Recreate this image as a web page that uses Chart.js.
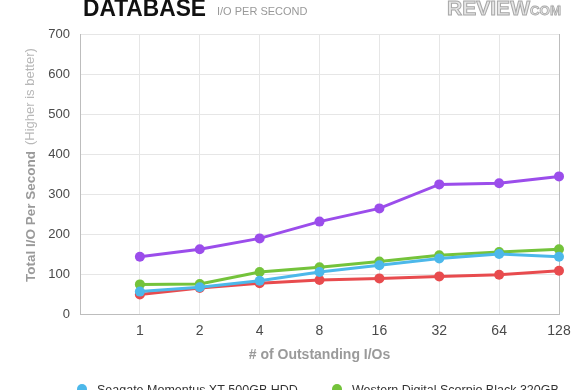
<!DOCTYPE html>
<html>
<head>
<meta charset="utf-8">
<script src="https://cdn.jsdelivr.net/npm/chart.js@4.4.1/dist/chart.umd.min.js"></script>
<style>
  html, body { margin: 0; padding: 0; background: #fff; overflow: hidden; }
  #wrap { width: 580px; height: 390px; position: relative; }
</style>
</head>
<body>
<div id="wrap"><canvas id="c" width="580" height="390"></canvas></div>
<script>
// ---- data ----
const categories = ['', '1', '2', '4', '8', '16', '32', '64', '128'];
const yTicks = [0, 100, 200, 300, 400, 500, 600, 700];
const seagateXT = [null, 56, 67, 83, 105, 122, 139, 150, 143];
const wdScorpio = [null, 74, 75, 105, 117, 131, 147, 155, 162];
const driveRed = [null, 49, 65, 77, 85, 89, 94, 98, 108];
const drivePurple = [null, 143, 162, 189, 231, 264, 324, 327, 344];
const seriesNames = ['Seagate Momentus XT 500GB HDD', 'Western Digital Scorpio Black 320GB', 'Hitachi Travelstar 7K500 500GB', 'Seagate Momentus XT 750GB'];
const seriesColors = ['#4cb8ea', '#74c33b', '#e84b4e', '#9b4deb'];
const titleMain = 'DATABASE';
const titleSub = 'I/O PER SECOND';
const yTitleMain = 'Total I/O Per Second';
const yTitleSub = '(Higher is better)';
const xTitle = '# of Outstanding I/Os';

const FONT = '"Liberation Sans", Arial, Helvetica, sans-serif';

function ds(label, data, color) {
  return {
    label, data,
    borderColor: color, backgroundColor: color,
    pointBackgroundColor: color, pointBorderColor: color,
    borderWidth: 3, pointRadius: 5, pointHoverRadius: 5, pointBorderWidth: 0,
    tension: 0, spanGaps: false
  };
}

const decorPlugin = {
  id: 'decor',
  afterDraw(chart) {
    const ctx = chart.ctx;
    ctx.save();
    // Title
    ctx.textBaseline = 'alphabetic';
    ctx.textAlign = 'left';
    ctx.save();
    ctx.fillStyle = '#111';
    ctx.font = 'bold 24px ' + FONT;
    let w = ctx.measureText(titleMain).width;
    ctx.translate(83, 16);
    ctx.scale(123 / w, 1);
    ctx.fillText(titleMain, 0, 0);
    ctx.restore();
    ctx.fillStyle = '#999';
    ctx.font = '11px ' + FONT;
    ctx.fillText(titleSub, 217, 15);

    // Logo
    ctx.save();
    ctx.font = 'bold 21px ' + FONT;
    w = ctx.measureText('REVIEW').width;
    ctx.translate(447, 15);
    ctx.scale(83 / w, 1);
    ctx.fillStyle = '#e6e6e6';
    ctx.strokeStyle = '#a8a8a8';
    ctx.lineWidth = 1;
    ctx.fillText('REVIEW', 0, 0);
    ctx.strokeText('REVIEW', 0, 0);
    ctx.restore();
    ctx.save();
    ctx.font = 'bold 13px ' + FONT;
    w = ctx.measureText('COM').width;
    ctx.translate(530, 15);
    ctx.scale(31 / w, 1);
    ctx.fillStyle = '#e6e6e6';
    ctx.strokeStyle = '#a8a8a8';
    ctx.lineWidth = 0.8;
    ctx.fillText('COM', 0, 0);
    ctx.strokeText('COM', 0, 0);
    ctx.restore();

    // Y axis title (rotated, two styles)
    ctx.save();
    ctx.translate(35, 282);
    ctx.rotate(-Math.PI / 2);
    ctx.textAlign = 'left';
    ctx.fillStyle = '#9a9a9a';
    ctx.font = 'bold 13.5px ' + FONT;
    ctx.fillText(yTitleMain, 0, 0);
    ctx.fillStyle = '#b8b8b8';
    ctx.font = '13px ' + FONT;
    ctx.fillText(yTitleSub, 137, -1);
    ctx.restore();

    // Legend (first row visible; rest falls below the frame)
    const pos = [[82, 97], [337, 352], [82, 97], [337, 352]];
    const rowY = [389, 415];
    chart.data.datasets.forEach((d, i) => {
      const [cx, tx] = pos[i];
      const cy = rowY[Math.floor(i / 2)];
      ctx.beginPath();
      ctx.arc(cx, cy, 5, 0, Math.PI * 2);
      ctx.fillStyle = d.borderColor;
      ctx.fill();
      ctx.fillStyle = '#333';
      ctx.font = '12.5px ' + FONT;
      ctx.textAlign = 'left';
      ctx.textBaseline = 'alphabetic';
      ctx.fillText(d.label, tx, cy + 5);
    });
    ctx.restore();
  }
};

new Chart(document.getElementById('c'), {
  type: 'line',
  data: {
    labels: categories,
    datasets: [
      ds(seriesNames[0], seagateXT, seriesColors[0]),
      ds(seriesNames[1], wdScorpio, seriesColors[1]),
      ds(seriesNames[2], driveRed, seriesColors[2]),
      ds(seriesNames[3], drivePurple, seriesColors[3])
    ]
  },
  options: {
    responsive: false,
    animation: false,
    events: [],
    layout: { padding: { top: 34, right: 21, bottom: 26, left: 0 } },
    plugins: { legend: { display: false }, tooltip: { enabled: false }, title: { display: false } },
    scales: {
      x: {
        offset: false,
        grid: {
          drawTicks: false,
          color: (c) => (c.index === categories.length - 1 ? '#bdbdbd' : '#e6e6e6'),
          lineWidth: 1
        },
        border: { color: '#bdbdbd', width: 1 },
        ticks: {
          color: '#4a4a4a', font: { family: FONT, size: 14 }, padding: 9,
          maxRotation: 0, autoSkip: false
        },
        title: {
          display: true, text: xTitle, color: '#9a9a9a',
          font: { family: FONT, size: 14, weight: 'bold' }, padding: { top: 4, bottom: 0 }
        },
        afterFit(scale) { scale.height = 50; }
      },
      y: {
        min: 0, max: 700,
        afterBuildTicks(scale) { scale.ticks = yTicks.map(v => ({ value: v })); },
        grid: { drawTicks: false, color: '#e6e6e6', lineWidth: 1 },
        border: { color: '#bdbdbd', width: 1 },
        ticks: { color: '#4a4a4a', font: { family: FONT, size: 13 }, padding: 10 },
        afterFit(scale) { scale.width = 80; }
      }
    }
  },
  plugins: [decorPlugin]
});
</script>
</body>
</html>
